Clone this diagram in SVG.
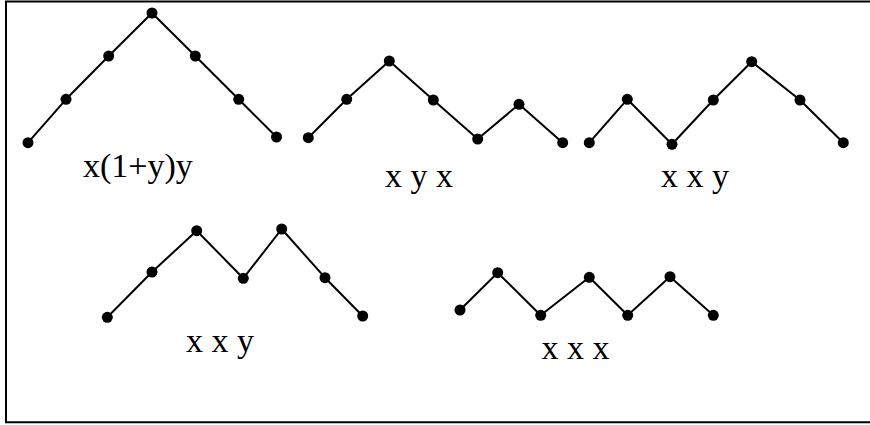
<svg xmlns="http://www.w3.org/2000/svg" width="870" height="425" viewBox="0 0 870 425">
<style>
.path{fill:none;stroke:#000;stroke-width:2;stroke-linejoin:round}
.dot{fill:#000}
.lbl{font-family:"Liberation Serif","Times New Roman",serif;font-size:34px;fill:#000}
</style>
<rect x="0" y="0" width="870" height="425" fill="#fff"/>
<path d="M870,1.5 H6 V422.3 H870" fill="none" stroke="#000" stroke-width="2"/>
<g id="connectors">
<polyline class="path" points="28,142.7 66,99.3 108.7,56 152,13 195.3,56 238.7,99.3 276.5,137"/>
<polyline class="path" points="308.3,137.7 346.7,99.3 389.3,61 433.3,100 477.7,139 519,104.3 562.7,142.7"/>
<polyline class="path" points="589.3,142.7 627.3,99.3 672,144.3 713.3,100 751.7,61.7 800,100 843.3,142.7"/>
<polyline class="path" points="107.3,317.3 152,272 196.7,230.7 243.3,278.3 281.7,229 325,277.7 362.7,316"/>
<polyline class="path" points="460,310 497.7,272.7 540.7,315.3 589.3,277.3 627.7,315.3 670,276.7 713.3,315.3"/>
</g>
<g id="node1">
<circle class="dot" cx="28" cy="142.7" r="5.5"/><circle class="dot" cx="66" cy="99.3" r="5.5"/><circle class="dot" cx="108.7" cy="56" r="5.5"/><circle class="dot" cx="152" cy="13" r="5.5"/><circle class="dot" cx="195.3" cy="56" r="5.5"/><circle class="dot" cx="238.7" cy="99.3" r="5.5"/><circle class="dot" cx="276.5" cy="137" r="5.5"/>
<text class="lbl" x="83" y="177">x(1+y)y</text>
</g>
<g id="node2">
<circle class="dot" cx="308.3" cy="137.7" r="5.5"/><circle class="dot" cx="346.7" cy="99.3" r="5.5"/><circle class="dot" cx="389.3" cy="61" r="5.5"/><circle class="dot" cx="433.3" cy="100" r="5.5"/><circle class="dot" cx="477.7" cy="139" r="5.5"/><circle class="dot" cx="519" cy="104.3" r="5.5"/><circle class="dot" cx="562.7" cy="142.7" r="5.5"/>
<text class="lbl" x="385" y="187">x y x</text>
</g>
<g id="node3">
<circle class="dot" cx="589.3" cy="142.7" r="5.5"/><circle class="dot" cx="627.3" cy="99.3" r="5.5"/><circle class="dot" cx="672" cy="144.3" r="5.5"/><circle class="dot" cx="713.3" cy="100" r="5.5"/><circle class="dot" cx="751.7" cy="61.7" r="5.5"/><circle class="dot" cx="800" cy="100" r="5.5"/><circle class="dot" cx="843.3" cy="142.7" r="5.5"/>
<text class="lbl" x="661" y="187">x x y</text>
</g>
<g id="node4">
<circle class="dot" cx="107.3" cy="317.3" r="5.5"/><circle class="dot" cx="152" cy="272" r="5.5"/><circle class="dot" cx="196.7" cy="230.7" r="5.5"/><circle class="dot" cx="243.3" cy="278.3" r="5.5"/><circle class="dot" cx="281.7" cy="229" r="5.5"/><circle class="dot" cx="325" cy="277.7" r="5.5"/><circle class="dot" cx="362.7" cy="316" r="5.5"/>
<text class="lbl" x="186" y="352">x x y</text>
</g>
<g id="node5">
<circle class="dot" cx="460" cy="310" r="5.5"/><circle class="dot" cx="497.7" cy="272.7" r="5.5"/><circle class="dot" cx="540.7" cy="315.3" r="5.5"/><circle class="dot" cx="589.3" cy="277.3" r="5.5"/><circle class="dot" cx="627.7" cy="315.3" r="5.5"/><circle class="dot" cx="670" cy="276.7" r="5.5"/><circle class="dot" cx="713.3" cy="315.3" r="5.5"/>
<text class="lbl" x="541.5" y="359">x x x</text>
</g>
</svg>
